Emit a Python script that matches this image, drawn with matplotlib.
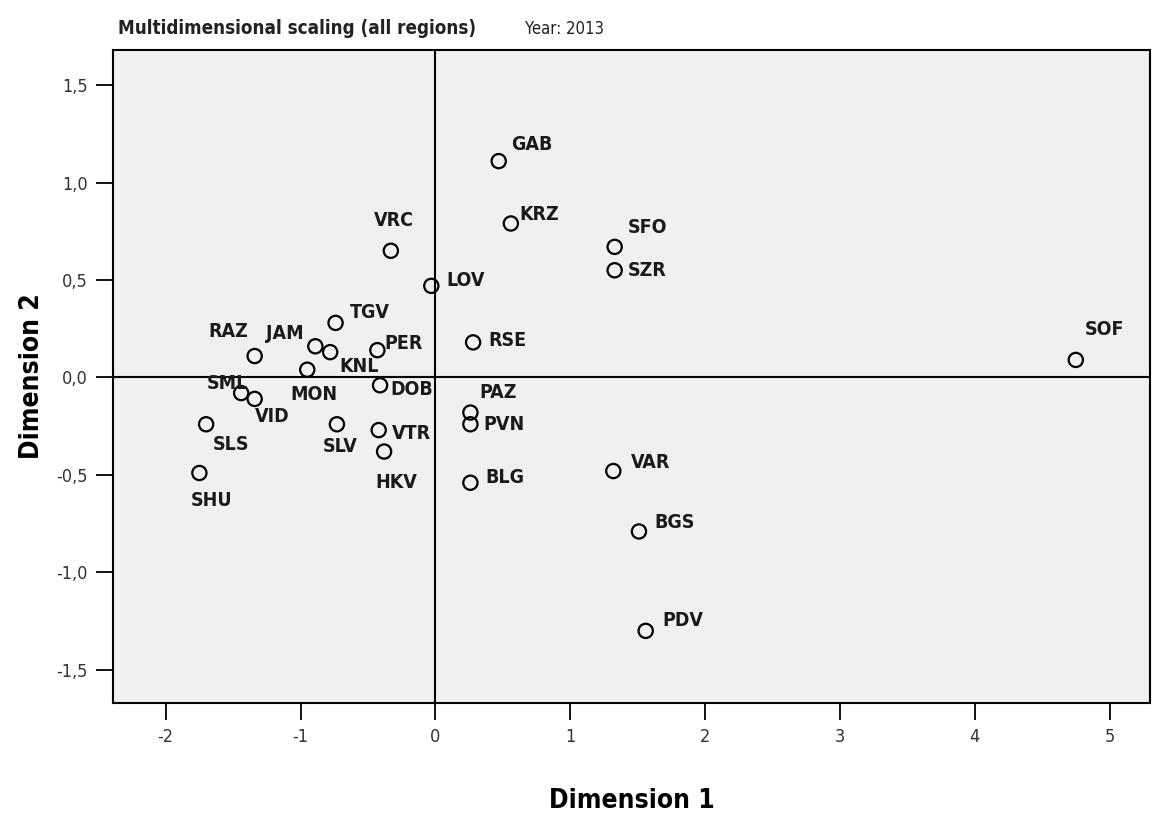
import matplotlib.pyplot as plt
from matplotlib.ticker import FuncFormatter

# MDS coordinates per region
regions = ["GAB", "KRZ", "SFO", "SZR", "VRC", "LOV", "TGV", "RAZ", "JAM", "KNL",
           "PER", "RSE", "SOF", "MON", "SML", "VID", "DOB", "PAZ", "PVN", "SLS",
           "SLV", "VTR", "HKV", "SHU", "BLG", "VAR", "BGS", "PDV"]
dim1 = [0.47, 0.56, 1.33, 1.33, -0.33, -0.03, -0.74, -1.34, -0.89, -0.78,
        -0.43, 0.28, 4.75, -0.95, -1.44, -1.34, -0.41, 0.26, 0.26, -1.70,
        -0.73, -0.42, -0.38, -1.75, 0.26, 1.32, 1.51, 1.56]
dim2 = [1.11, 0.79, 0.67, 0.55, 0.65, 0.47, 0.28, 0.11, 0.16, 0.13,
        0.14, 0.18, 0.09, 0.04, -0.08, -0.11, -0.04, -0.18, -0.24, -0.24,
        -0.24, -0.27, -0.38, -0.49, -0.54, -0.48, -0.79, -1.30]

# label offsets in pixels (dx, dy; dy positive = up)
label_offsets = {
    "GAB": (12, 17), "KRZ": (9, 9), "SFO": (13, 19), "SZR": (13, 0),
    "VRC": (-17, 30), "LOV": (15, 5), "TGV": (14, 10), "RAZ": (-46, 25),
    "JAM": (-49, 13), "KNL": (9, -14), "PER": (7, 7), "RSE": (15, 2),
    "SOF": (9, 30), "MON": (-17, -25), "SML": (-34, 10), "VID": (0, -18),
    "DOB": (10, -4), "PAZ": (9, 20), "PVN": (13, 0), "SLS": (7, -20),
    "SLV": (-14, -22), "VTR": (13, -3), "HKV": (-9, -31), "SHU": (-9, -28),
    "BLG": (15, 5), "VAR": (18, 9), "BGS": (15, 9), "PDV": (17, 10),
}

plt.rcParams['font.family'] = ['DejaVu Sans']
plt.rcParams['font.stretch'] = 'condensed'
plt.rcParams['axes.unicode_minus'] = False

fig = plt.figure(figsize=(11.54, 8.16), dpi=100)
ax = fig.add_axes([0.098, 0.1385, 0.8985, 0.8002])
ax.set_facecolor("#f0f0f0")

ax.axhline(0, color="black", linewidth=1.5, zorder=1)
ax.axvline(0, color="black", linewidth=1.5, zorder=1)

ax.scatter(dim1, dim2, s=105, facecolors="none", edgecolors="black",
           linewidths=1.6, zorder=3)

for name, x, y in zip(regions, dim1, dim2):
    dx, dy = label_offsets[name]
    ax.annotate(name, (x, y), xytext=(dx, dy), textcoords="offset pixels",
                ha="left", va="center", fontsize=14, fontweight="bold",
                fontstretch="condensed", color="#1a1a1a", zorder=4)

ax.set_xlim(-2.39, 5.3)
ax.set_ylim(-1.67, 1.68)
ax.set_xticks([-2, -1, 0, 1, 2, 3, 4, 5])
ax.set_yticks([-1.5, -1.0, -0.5, 0.0, 0.5, 1.0, 1.5])
ax.yaxis.set_major_formatter(FuncFormatter(lambda v, p: f"{v:.1f}".replace(".", ",")))
ax.tick_params(direction="out", length=12, width=1.3, labelsize=13,
               labelcolor="#333333", pad=6)
for s in ax.spines.values():
    s.set_linewidth(1.5)

ax.set_xlabel("Dimension 1", fontsize=19, fontweight="bold",
              fontstretch="condensed", labelpad=30)
ax.set_ylabel("Dimension 2", fontsize=19, fontweight="bold",
              fontstretch="condensed", labelpad=8)

fig.text(0.102, 0.965, "Multidimensional scaling (all regions)", fontsize=13.5,
         fontweight="bold", fontstretch="condensed", color="#222222", va="center")
fig.text(0.455, 0.965, "Year: 2013", fontsize=12, fontstretch="condensed",
         color="#222222", va="center")

fig.savefig("out.png", dpi=100)
